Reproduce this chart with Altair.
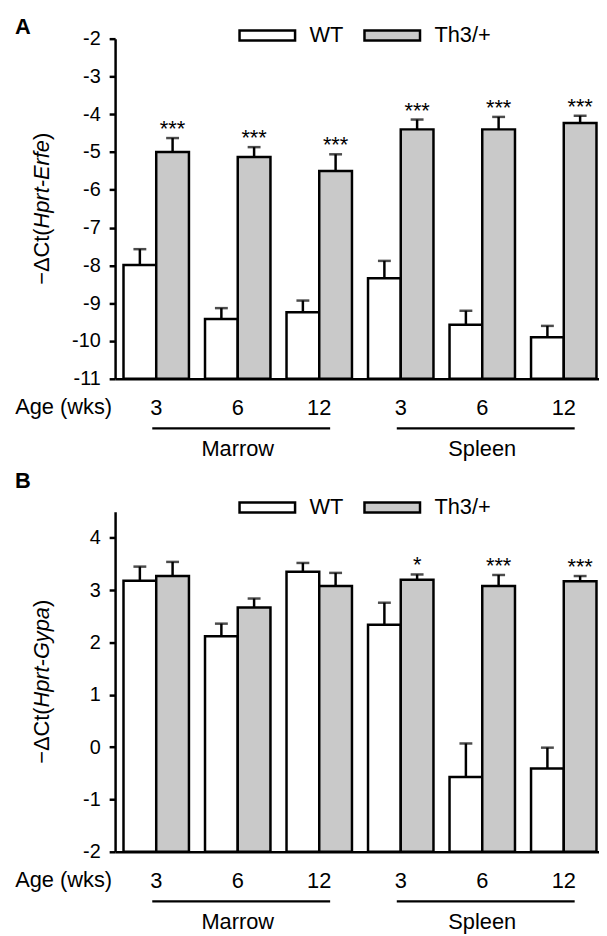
import altair as alt
import pandas as pd

# ---------------- data ----------------
groups = ["M3", "M6", "M12", "S3", "S6", "S12"]
genotypes = ["WT", "Th3/+"]
tissues = ["Marrow", "Spleen"]
tissue_start = ["M3", "S3"]
tissue_mid = ["M6", "S6"]
tissue_end = ["M12", "S12"]

# Panel A: -dCt(Hprt-Erfe)
erfe_wt = [-7.99, -9.42, -9.24, -8.34, -9.57, -9.90]
erfe_wt_err = [0.42, 0.29, 0.31, 0.46, 0.37, 0.30]
erfe_th3 = [-5.00, -5.13, -5.50, -4.40, -4.40, -4.23]
erfe_th3_err = [0.37, 0.26, 0.44, 0.26, 0.33, 0.19]
erfe_sig = ["***", "***", "***", "***", "***", "***"]

# Panel B: -dCt(Hprt-Gypa)
gypa_wt = [3.18, 2.12, 3.35, 2.34, -0.57, -0.41]
gypa_wt_err = [0.27, 0.24, 0.17, 0.42, 0.64, 0.40]
gypa_th3 = [3.27, 2.67, 3.08, 3.20, 3.08, 3.17]
gypa_th3_err = [0.27, 0.17, 0.25, 0.10, 0.21, 0.10]
gypa_sig = ["", "", "", "*", "***", "***"]

erfe_ticks = [-11, -10, -9, -8, -7, -6, -5, -4, -3, -2]
gypa_ticks = [-2, -1, 0, 1, 2, 3, 4]

FONT = "Liberation Sans"
W, H = 488, 343
GRAY = "#c9c9c9"
LW = 2.5


def make_df(wt, wt_err, th, th_err, sig):
    rows = []
    for i, g in enumerate(groups):
        rows.append(dict(grp=g, geno="WT", val=wt[i], top=wt[i] + wt_err[i], sig=""))
        rows.append(dict(grp=g, geno="Th3/+", val=th[i], top=th[i] + th_err[i], sig=sig[i]))
    return pd.DataFrame(rows)


def text_width(s, size, widths):
    return sum(widths.get(c, 0.556) for c in s) * size


CHAR_W = {"−": 0.584, "Δ": 0.66, "C": 0.722, "t": 0.278, "(": 0.333, ")": 0.333,
          "H": 0.722, "p": 0.556, "r": 0.333, "-": 0.333, "E": 0.667, "f": 0.278,
          "e": 0.556, "G": 0.778, "y": 0.5, "a": 0.556}


def panel(df, domain, ticks, gene, letter, letter_y, legend_y):
    xs = alt.Scale(domain=groups, paddingInner=0.197, paddingOuter=0.067, align=0.77)
    xo = alt.Scale(domain=genotypes, paddingInner=0, paddingOuter=0)
    ys = alt.Scale(domain=domain, nice=False, zero=False)

    xaxis = alt.Axis(title=None, ticks=False, tickSize=0, labelPadding=29,
                     labelFontSize=22, labelFont=FONT, labelColor="black",
                     labelAngle=0, labelBaseline="middle",
                     labelExpr="replace(replace(datum.value, 'M', ''), 'S', '')",
                     domainWidth=LW, domainColor="black")
    yaxis = alt.Axis(title=None, values=ticks, labelExpr="datum.value + ''",
                     grid=False, tickSize=6, tickWidth=LW, tickColor="black",
                     domainWidth=LW, domainColor="black", labelFontSize=20,
                     labelFont=FONT, labelColor="black", labelPadding=9)

    X = alt.X("grp:N", scale=xs, axis=xaxis)
    XO = alt.XOffset("geno:N", scale=xo)
    Yv = alt.Y("val:Q", scale=ys, axis=yaxis)
    Yt = alt.Y("top:Q", scale=ys, axis=yaxis)

    base = alt.Chart(df)
    bars = base.mark_bar(stroke="black", strokeWidth=LW).encode(
        x=X, xOffset=XO, y=Yv,
        y2=alt.datum(domain[0]),
        fill=alt.Fill("geno:N", scale=alt.Scale(domain=genotypes, range=["white", GRAY]),
                      legend=alt.Legend(orient="none", legendX=142, legendY=legend_y,
                                        direction="horizontal", title=None,
                                        symbolType="M-2.8,-0.5H2.8V0.5H-2.8Z",
                                        symbolSize=400, symbolStrokeColor="black",
                                        symbolStrokeWidth=LW, labelFontSize=22,
                                        labelFont=FONT, labelColor="black",
                                        labelOffset=31, columnPadding=15, padding=0)),
    )
    errs = base.mark_rule(color="black", strokeWidth=LW).encode(
        x=X, xOffset=XO, y=Yv, y2="top:Q")
    caps = base.mark_tick(color="black", thickness=LW, size=13, orient="horizontal").encode(
        x=X, xOffset=XO, y=Yt)
    stars = base.transform_filter("datum.sig != ''").mark_text(
        font=FONT, fontSize=22, baseline="alphabetic", dy=-2, color="black").encode(
        x=X, xOffset=XO, y=Yt, text="sig:N")

    age = alt.Chart(pd.DataFrame({"t": ["Age (wks)"]})).mark_text(
        font=FONT, fontSize=22, align="right", baseline="middle", color="black").encode(
        text="t:N", x=alt.value(-3), y=alt.value(H + 29))

    tdf = pd.DataFrame({"tissue": tissues, "start": tissue_start,
                        "grp": tissue_mid, "end": tissue_end})
    brk = alt.Chart(tdf).mark_rule(color="black", strokeWidth=LW,
                                   xOffset=-4, x2Offset=11).encode(
        x=alt.X("start:N", scale=xs, axis=xaxis), x2="end", y=alt.value(H + 50))
    tis = alt.Chart(tdf).mark_text(
        font=FONT, fontSize=22, baseline="middle", color="black").encode(
        x=X, y=alt.value(H + 71), text="tissue:N")

    lab = alt.Chart(pd.DataFrame({"t": [letter]})).mark_text(
        font=FONT, fontSize=22, fontWeight="bold", align="left", baseline="alphabetic",
        color="black").encode(text="t:N", x=alt.value(-101), y=alt.value(letter_y))

    # y title: −ΔCt(<i>gene</i>)
    fs = 22
    p1, p2, p3 = "−ΔCt(", gene, ")"
    w1, w2, w3 = (text_width(p, fs, CHAR_W) for p in (p1, p2, p3))
    y0 = H / 2 + (w1 + w2 + w3) / 2
    parts = []
    for txt, yy, style in ((p1, y0, "normal"), (p2, y0 - w1, "italic"), (p3, y0 - w1 - w2, "normal")):
        parts.append(alt.Chart(pd.DataFrame({"t": [txt]})).mark_text(
            font=FONT, fontSize=fs, fontStyle=style, angle=270, align="left",
            baseline="middle", color="black").encode(
            text="t:N", x=alt.value(-74), y=alt.value(yy)))

    return alt.layer(bars, errs, caps, stars, age, brk, tis, lab, *parts).properties(
        width=W, height=H)


pA = panel(make_df(erfe_wt, erfe_wt_err, erfe_th3, erfe_th3_err, erfe_sig),
           [-11, -2], erfe_ticks, "Hprt-Erfe", "A", -5, -15)
pB = panel(make_df(gypa_wt, gypa_wt_err, gypa_th3, gypa_th3_err, gypa_sig),
           [-2, 4.5], gypa_ticks, "Hprt-Gypa", "B", -24, -16)

chart = alt.vconcat(pA, pB, spacing=10).resolve_scale(
    fill="independent", x="independent", y="independent").configure_view(
    stroke=None).properties(padding={"left": 7, "top": 4, "right": 0, "bottom": 0})

chart.save("out.html", embed_options={"renderer": "svg", "actions": False})
